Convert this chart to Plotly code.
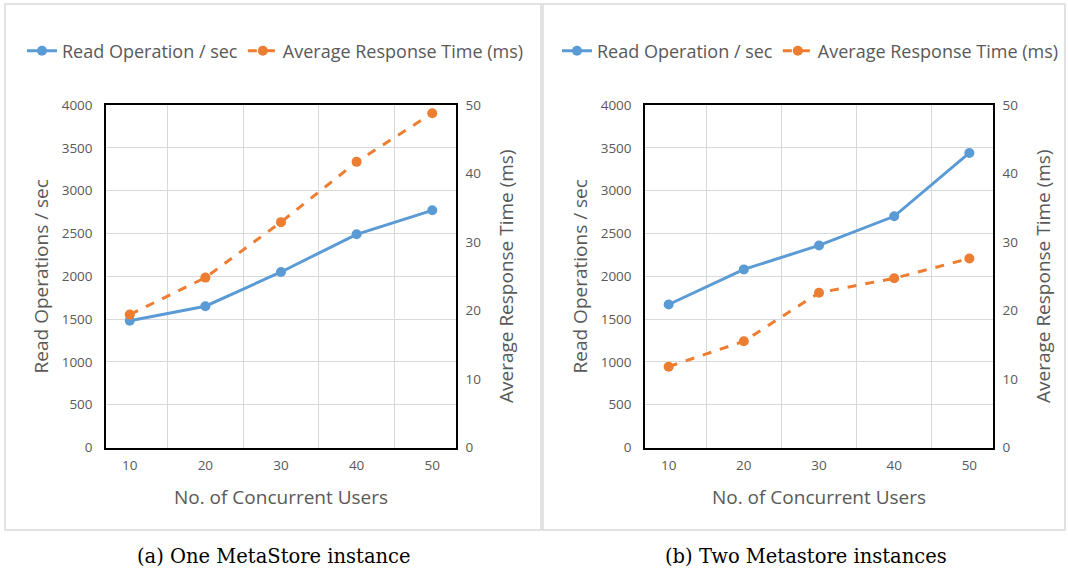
import plotly.graph_objects as go
from plotly.subplots import make_subplots

users = [10, 20, 30, 40, 50]
read_ops_one = [1480, 1650, 2050, 2490, 2770]
resp_time_one = [19.4, 24.8, 32.9, 41.7, 48.8]
read_ops_two = [1670, 2080, 2360, 2700, 3440]
resp_time_two = [11.8, 15.5, 22.6, 24.7, 27.6]
captions = ["(a) One MetaStore instance", "(b) Two Metastore instances"]

BLUE = "#5B9BD5"
ORANGE = "#ED7D31"
GREY = "#595959"
W, H = 1068, 573


def px(x):
    return x / W


def py(y):
    return 1 - y / H


fig = make_subplots(rows=1, cols=2, specs=[[{"secondary_y": True}, {"secondary_y": True}]])

cats = [str(u) for u in users]
for col, (ro, rt) in enumerate([(read_ops_one, resp_time_one), (read_ops_two, resp_time_two)], start=1):
    leg = "legend" if col == 1 else "legend2"
    fig.add_trace(go.Scatter(x=cats, y=ro, mode="lines+markers", name="Read Operation / sec",
                             line=dict(color=BLUE, width=3), marker=dict(size=10, color=BLUE),
                             legend=leg), row=1, col=col, secondary_y=False)
    fig.add_trace(go.Scatter(x=cats, y=rt, mode="lines+markers", name="Average Response Time (ms)",
                             line=dict(color=ORANGE, width=3, dash="dash"), marker=dict(size=10, color=ORANGE),
                             legend=leg), row=1, col=col, secondary_y=True)

ydom = [py(447.5), py(105)]
xdoms = [[px(106), px(456)], [px(645), px(993)]]
tickfont = dict(family="Open Sans", size=13.5, color=GREY)
titlefont = dict(family="Open Sans", size=19, color=GREY)

for col in (1, 2):
    fig.update_xaxes(type="category", tickson="boundaries", showgrid=True, gridcolor="#D9D9D9", gridwidth=1,
                     showline=True, linecolor="black", linewidth=1.5, mirror=True, ticks="",
                     tickfont=tickfont, domain=xdoms[col - 1], automargin=False, ticklabelstandoff=5,
                     title=dict(text="No. of Concurrent Users", font=titlefont, standoff=17),
                     row=1, col=col)
    fig.update_yaxes(range=[0, 4000], dtick=500, showgrid=True, gridcolor="#D9D9D9", gridwidth=1,
                     showline=True, linecolor="black", linewidth=1.5, ticks="", zeroline=False,
                     tickfont=tickfont, domain=ydom, automargin=False, ticklabelstandoff=9,
                     title=dict(text="Read Operations / sec", font=titlefont, standoff=8),
                     row=1, col=col, secondary_y=False)
    fig.update_yaxes(range=[0, 50], dtick=10, showgrid=False, showline=True, linecolor="black",
                     linewidth=1.5, ticks="", zeroline=False, tickfont=tickfont, automargin=False,
                     ticklabelstandoff=5,
                     title=dict(text="Average Response Time (ms)", font=titlefont, standoff=20),
                     row=1, col=col, secondary_y=True)

legfont = dict(family="Open Sans", size=18, color=GREY)
fig.update_layout(
    width=W, height=H, margin=dict(l=0, r=0, t=0, b=0, autoexpand=False),
    paper_bgcolor="white", plot_bgcolor="white",
    legend=dict(orientation="h", x=px(22), y=py(51), xanchor="left", yanchor="middle",
                font=legfont, bgcolor="rgba(0,0,0,0)", itemwidth=30),
    legend2=dict(orientation="h", x=px(557), y=py(51), xanchor="left", yanchor="middle",
                 font=legfont, bgcolor="rgba(0,0,0,0)", itemwidth=30),
)

# panel frames
fig.add_shape(type="rect", xref="paper", yref="paper", x0=px(5), x1=px(541), y0=py(530), y1=py(4),
              line=dict(color="#D9D9D9", width=1.5), layer="below")
fig.add_shape(type="rect", xref="paper", yref="paper", x0=px(543), x1=px(1065), y0=py(530), y1=py(4),
              line=dict(color="#D9D9D9", width=1.5), layer="below")

for i, cap in enumerate(captions):
    fig.add_annotation(text=cap, x=px(274 if i == 0 else 806), y=py(556), xref="paper", yref="paper",
                       showarrow=False, xanchor="center", yanchor="middle",
                       font=dict(family="DejaVu Serif", size=19.5, color="black"))

fig.write_html("out.html", config={"displayModeBar": False},
               post_script="document.body.style.margin='0';document.body.style.overflow='hidden';")
